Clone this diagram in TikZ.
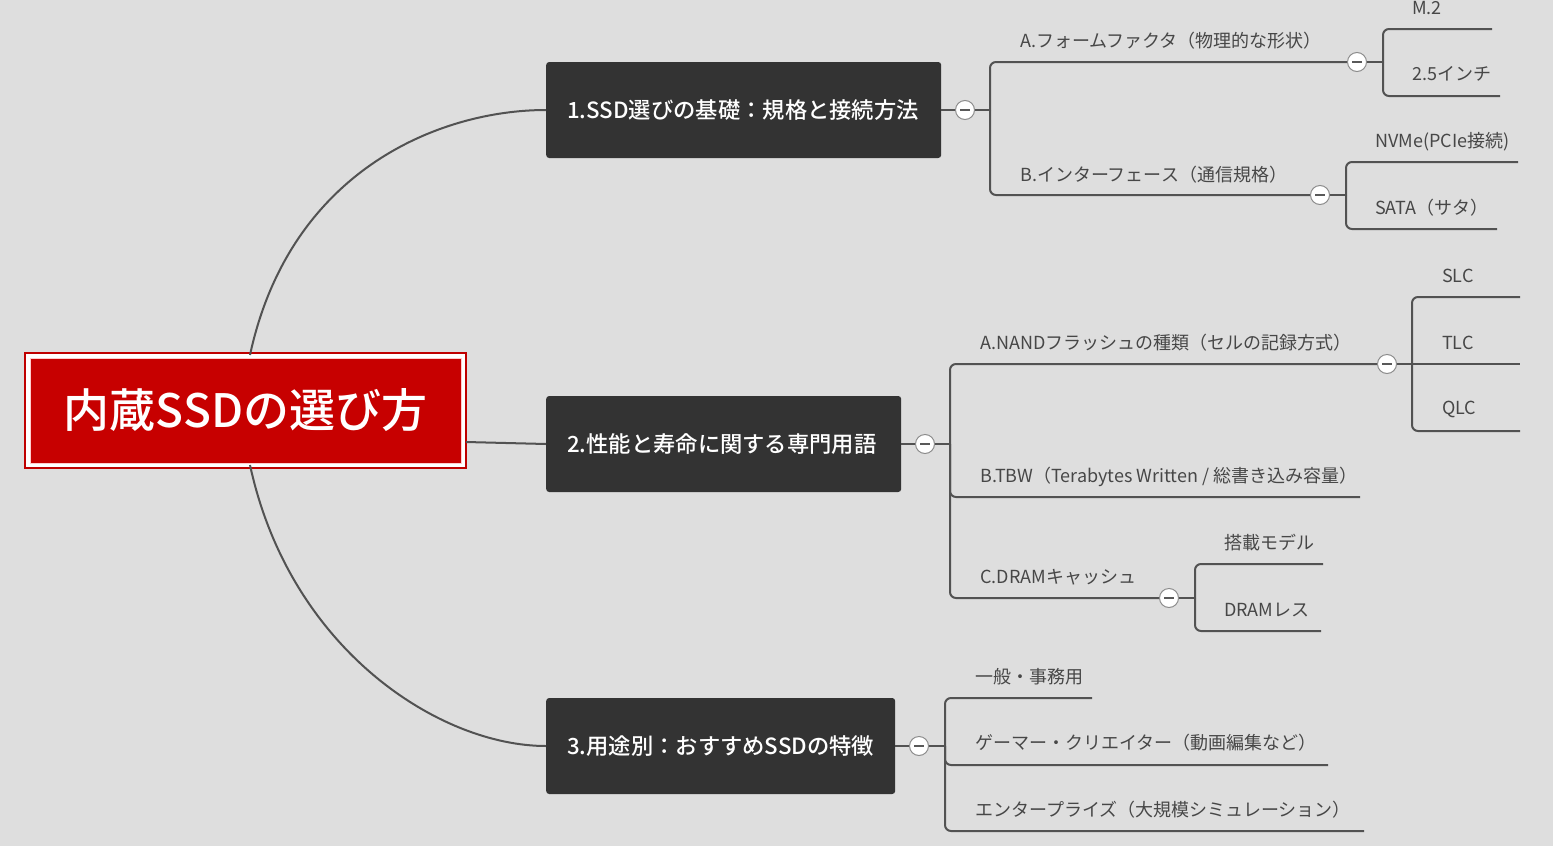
\documentclass[tikz,border=0pt]{standalone}
\usepackage{fontspec}
\setmainfont{Noto Sans CJK JP}
\newfontfamily\cjkmed{Noto Sans CJK JP Medium}
\begin{document}
\begin{tikzpicture}[x=1pt,y=-1pt,
  ln/.style={draw=black!68,line width=2pt,rounded corners=6pt},
  main/.style={fill=black!80,rounded corners=3pt,text=white,font=\cjkmed\fontsize{22.3}{26}\selectfont,minimum height=96pt,anchor=west,inner xsep=21pt,inner ysep=0,align=left},
  leaf/.style={anchor=west,text=black!72,font=\fontsize{18}{21}\selectfont,inner sep=0},
  tog/.style={circle,draw=black!45,line width=1pt,fill=white,minimum size=19pt,inner sep=0,
    path picture={\draw[black!65,line width=2pt] ([xshift=-5pt]path picture bounding box.center)--([xshift=5pt]path picture bounding box.center);}}]
\fill[black!13] (0,0) rectangle (1553,846);
\useasboundingbox (0,0) rectangle (1553,846);
% root
\draw[red!75!black,line width=1.5pt,fill=white] (25,353) rectangle (466,468);
\node[fill=red!78!black,draw=white!80!red,line width=1pt,minimum width=431pt,minimum height=105pt,text=white,font=\cjkmed\fontsize{46}{52}\selectfont,inner sep=0] (root) at (245.5,410.5) {内蔵SSDの選び方};
\coordinate (rootout) at (466,442);
% main nodes
\node[main,text width=353pt] (m1) at (546,110) {1.SSD選びの基礎：規格と接続方法};
\node[main,text width=313pt] (m2) at (546,444) {2.性能と寿命に関する専門用語};
\node[main,text width=307pt] (m3) at (546,746) {3.用途別：おすすめSSDの特徴};
\draw[ln] (250,355) .. controls (290,170) and (440,110) .. (m1.west);
\draw[ln] (rootout) -- (m2.west);
\draw[ln] (250,465) .. controls (290,650) and (440,746) .. (m3.west);
% branch 1
\draw[ln] (m1.east) -- (990,110);
\draw[ln] (990,110) |- (1357,62);
\draw[ln] (990,110) |- (1320,195);
\node[leaf] (a1) at (1020,41) {A.フォームファクタ（物理的な形状）};
\node[leaf] (b1) at (1020,175) {B.インターフェース（通信規格）};
\draw[ln] (1357,62) -- (1383,62);
\draw[ln] (1383,62) |- (1492,29);
\draw[ln] (1383,62) |- (1500,96);
\node[leaf] (m2t) at (1412,8) {M.2};
\node[leaf] (i25) at (1412,74) {2.5インチ};
\draw[ln] (1320,195) -- (1346,195);
\draw[ln] (1346,195) |- (1518,162);
\draw[ln] (1346,195) |- (1497,229);
\node[leaf] (nv) at (1375,142) {NVMe(PCIe接続)};
\node[leaf] (sa) at (1375,208) {SATA（サタ）};
% branch 2
\draw[ln] (m2.east) -- (950,444);
\draw[ln] (950,444) |- (1387,364);
\draw[ln] (950,444) |- (1360,497);
\draw[ln] (950,444) |- (1169,598);
\node[leaf] (a2) at (980,343) {A.NANDフラッシュの種類（セルの記録方式）};
\node[leaf] (b2) at (980,477) {B.TBW（Terabytes Written / 総書き込み容量）};
\node[leaf] (c2) at (980,577) {C.DRAMキャッシュ};
\draw[ln] (1387,364) -- (1520,364);
\draw[ln] (1412,364) |- (1520,297);
\draw[ln] (1412,364) |- (1520,431);
\node[leaf] (slc) at (1442,276) {SLC};
\node[leaf] (tlc) at (1442,343) {TLC};
\node[leaf] (qlc) at (1442,409) {QLC};
\draw[ln] (1169,598) -- (1195,598);
\draw[ln] (1195,598) |- (1323,564);
\draw[ln] (1195,598) |- (1321,631);
\node[leaf] (tm) at (1224,543) {搭載モデル};
\node[leaf] (dl) at (1224,610) {DRAMレス};
% branch 3
\draw[ln] (m3.east) -- (945,746);
\draw[ln] (945,746) |- (1092,698);
\draw[ln] (945,746) |- (1328,765);
\draw[ln] (945,746) |- (1364,831);
\node[leaf] (g1) at (975,677) {一般・事務用};
\node[leaf] (g2) at (975,743) {ゲーマー・クリエイター（動画編集など）};
\node[leaf] (g3) at (975,810) {エンタープライズ（大規模シミュレーション）};
% toggles
\node[tog] (t1) at (965,110) {};
\node[tog] (t2) at (925,444) {};
\node[tog] (t3) at (919,746) {};
\node[tog] (t4) at (1357,62) {};
\node[tog] (t5) at (1320,195) {};
\node[tog] (t6) at (1387,364) {};
\node[tog] (t7) at (1169,598) {};
\end{tikzpicture}
\end{document}
